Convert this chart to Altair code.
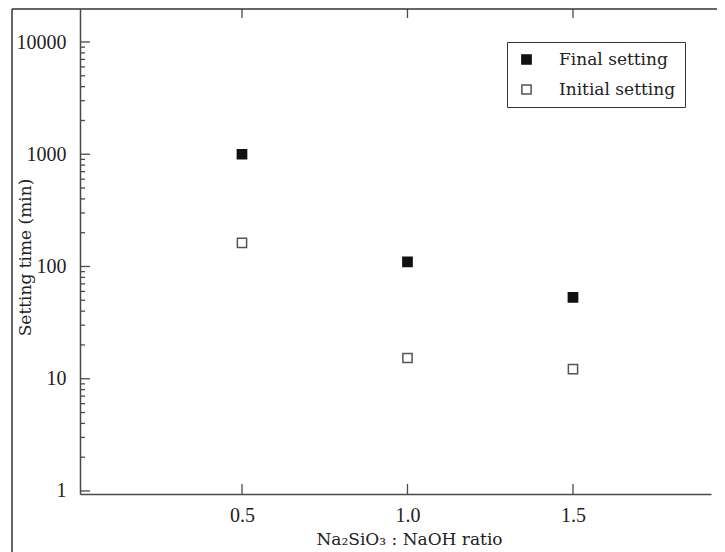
import altair as alt
import pandas as pd

# ---- data ----
ratios = [0.5, 1.0, 1.5]
final_setting = [1000, 110, 53]
initial_setting = [162, 15.3, 12.2]
series_names = ["Final setting", "Initial setting"]

y_major = [1, 10, 100, 1000, 10000]
y_minor = [m * d for d in [1, 10, 100, 1000] for m in range(2, 10)]
x_ticks = [0.5, 1.0, 1.5]

NUM_FONT = "Liberation Serif"
TXT_FONT = "DejaVu Serif"
W, H = 631, 485
INK = "#222222"
AX = "#4a4a4a"

df = pd.DataFrame({
    "ratio": ratios * 2,
    "time": final_setting + initial_setting,
    "series": [series_names[0]] * 3 + [series_names[1]] * 3,
})

xs = alt.Scale(domain=[0.0106, 1.917], nice=False, zero=False)
ys = alt.Scale(type="log", domain=[0.94, 19680], nice=False)

x_axis = alt.Axis(
    values=x_ticks, format=".1f", ticks=False, grid=False,
    domainColor=AX, domainWidth=1.5,
    labelFont=NUM_FONT, labelFontSize=20, labelColor=INK, labelPadding=11,
    title="Na\u2082SiO\u2083 : NaOH ratio", titleFont=TXT_FONT, titleFontSize=17,
    titleFontWeight="normal", titleColor=INK,
    titleX=329, titleY=50, titleBaseline="alphabetic", titleAnchor="middle",
)
y_axis = alt.Axis(
    values=y_major, format="d", ticks=False, grid=False,
    domainColor=AX, domainWidth=1.5,
    labelFont=NUM_FONT, labelFontSize=20, labelColor=INK, labelPadding=14,
    title="Setting time (min)", titleFont=TXT_FONT, titleFontSize=17,
    titleFontWeight="normal", titleColor=INK,
    titleX=-50, titleY=248, titleBaseline="alphabetic", titleAngle=270,
)

leg = alt.Legend(
    title=None, orient="none", legendX=427, legendY=33,
    strokeColor="#333333", fillColor="white", padding=9, cornerRadius=0,
    labelFont=TXT_FONT, labelFontSize=17, labelColor=INK,
    symbolSize=85, symbolStrokeWidth=1.5, symbolOffset=2,
    labelOffset=24, rowPadding=12,
)

points = alt.Chart(df).mark_point(shape="square", size=85, strokeWidth=1.5, opacity=1, filled=False).encode(
    x=alt.X("ratio:Q", scale=xs, axis=x_axis),
    y=alt.Y("time:Q", scale=ys, axis=y_axis),
    fill=alt.Fill("series:N", scale=alt.Scale(domain=series_names, range=["#111111", "#ffffff"]), legend=leg),
    stroke=alt.Stroke("series:N", scale=alt.Scale(domain=series_names, range=["#111111", "#555555"]), legend=leg),
    shape=alt.Shape("series:N", scale=alt.Scale(domain=series_names, range=["square", "square"]), legend=leg),
)

ymaj_df = pd.DataFrame({"v": y_major})
ymin_df = pd.DataFrame({"v": y_minor})
xt_df = pd.DataFrame({"v": x_ticks})

left_major = alt.Chart(ymaj_df).mark_rule(color=AX, strokeWidth=1.3).encode(
    y=alt.Y("v:Q", scale=ys, axis=y_axis), x=alt.value(0), x2=alt.value(10))
left_minor = alt.Chart(ymin_df).mark_rule(color=AX, strokeWidth=1.3).encode(
    y=alt.Y("v:Q", scale=ys, axis=y_axis), x=alt.value(0), x2=alt.value(5))
bottom_ticks = alt.Chart(xt_df).mark_rule(color=AX, strokeWidth=1.3).encode(
    x=alt.X("v:Q", scale=xs, axis=x_axis), y=alt.value(H), y2=alt.value(H - 10))
top_ticks = alt.Chart(xt_df).mark_rule(color=AX, strokeWidth=1.3).encode(
    x=alt.X("v:Q", scale=xs, axis=x_axis), y=alt.value(0), y2=alt.value(9))

# page frame (top edge shared with the plot's top, plus the outer left edge)
frame_top = alt.Chart(ymaj_df.head(1)).mark_rule(color="#333333", strokeWidth=1.5).encode(
    x=alt.value(-68), x2=alt.value(W + 10), y=alt.value(0))
frame_left = alt.Chart(ymaj_df.head(1)).mark_rule(color="#333333", strokeWidth=1.5).encode(
    x=alt.value(-68), y=alt.value(0), y2=alt.value(H + 70))

chart = alt.layer(
    points, left_major, left_minor, bottom_ticks, top_ticks, frame_top, frame_left
).properties(
    width=W, height=H,
    autosize=alt.AutoSizeParams(type="none"),
    padding={"left": 72, "top": 1, "right": 6, "bottom": 58},
    background="white",
).configure_view(stroke="transparent", strokeOpacity=0, strokeWidth=0)

chart.save("out.html", embed_options={"renderer": "svg", "actions": False})
